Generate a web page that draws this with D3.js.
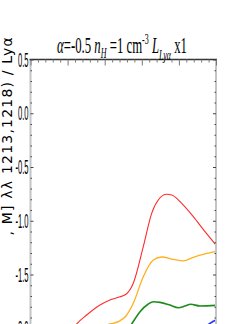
<!DOCTYPE html>
<html><head><meta charset="utf-8">
<script src="https://cdn.jsdelivr.net/npm/d3@7"></script>
<style>body{margin:0;background:#fff}svg{display:block}</style>
</head><body>
<script>
// ---- data ----
const xDomain = [0, 25];
const yDomain = [-2.5, 0.5];
const yTickValues = [0.5, 0.0, -0.5, -1.0, -1.5, -2.0];
const yTickLabels = ["0.5", "0.0", "-0.5", "-1.0", "-1.5", "-2.0"];
const yLabelText = ", M] λλ 1213,1218) / Lyα";

const redX = [5.0, 6.23, 7.57, 9.37, 10.71, 11.83, 12.87, 13.85, 15.2, 16.33, 17.22, 18.36, 19.03, 20.38, 21.94, 23.52, 25];
const redY = [-2.08, -1.96, -1.877, -1.784, -1.737, -1.712, -1.684, -1.582, -1.241, -0.931, -0.807, -0.754, -0.760, -0.838, -0.962, -1.102, -1.226];
const orangeX = [9.5, 10.71, 11.83, 12.87, 13.85, 15.2, 16.55, 17.68, 19.25, 20.59, 21.94, 23.52, 25];
const orangeY = [-1.985, -1.960, -1.939, -1.886, -1.768, -1.520, -1.365, -1.337, -1.359, -1.374, -1.340, -1.309, -1.285];
const greenX = [12.8, 13.64, 14.76, 15.88, 16.55, 17.45, 18.8, 19.92, 20.82, 21.59, 22.84, 25];
const greenY = [-2.05, -1.960, -1.846, -1.774, -1.753, -1.759, -1.784, -1.809, -1.793, -1.777, -1.793, -1.787];
const blueX = [23.0, 24.19, 25];
const blueY = [-2.02, -1.954, -1.923];

const series = [
  {x: redX, y: redY, color: "#ff2a2a", w: 1.1},
  {x: orangeX, y: orangeY, color: "#ffb020", w: 1.3},
  {x: greenX, y: greenY, color: "#1e8c1e", w: 1.6},
  {x: blueX, y: blueY, color: "#2030ff", w: 1.6}
];

// ---- layout ----
const W = 240, H = 324;
const mLeft = 30.5, mRight = 216, mTop = 59.5;
const x = d3.scaleLinear().domain(xDomain).range([mLeft, mRight]);
const y = d3.scaleLinear().domain(yDomain).range([mTop + 3 * 107.5, mTop]);

const svg = d3.select("body").append("svg").attr("width", W).attr("height", H);

// curves
const line = d3.line().x(d => x(d[0])).y(d => y(d[1])).curve(d3.curveMonotoneX);
series.forEach(s => {
  const pts = s.x.map((v, i) => [v, s.y[i]]);
  svg.append("path").attr("d", line(pts)).attr("fill", "none")
    .attr("stroke", s.color).attr("stroke-width", s.w);
});

// frame
svg.append("line").attr("x1", mLeft).attr("x2", mLeft).attr("y1", mTop).attr("y2", H + 10)
  .attr("stroke", "#c4c4c4").attr("stroke-width", 2);
svg.append("line").attr("x1", mRight).attr("x2", mRight).attr("y1", mTop).attr("y2", H + 10)
  .attr("stroke", "#c4c4c4").attr("stroke-width", 2);
svg.append("line").attr("x1", mLeft - 1).attr("x2", mRight + 1).attr("y1", mTop).attr("y2", mTop)
  .attr("stroke", "#333").attr("stroke-width", 1.5);

// top axis ticks (inward)
const topAxis = d3.axisBottom(x).tickValues(d3.range(0, 25.01, 1)).tickFormat("")
  .tickSize(3).tickSizeOuter(0);
const gTop = svg.append("g").attr("transform", `translate(0,${mTop})`).call(topAxis);
gTop.select(".domain").remove();
gTop.selectAll(".tick line").attr("stroke", "#777")
  .attr("y2", d => (Math.round(d) % 5 === 0) ? 6 : 3);

// left/right ticks
const yMinor = d3.range(-25, 6, 1).map(v => v / 10);
const gL = svg.append("g").attr("transform", `translate(${mLeft},0)`)
  .call(d3.axisRight(y).tickValues(yMinor).tickFormat("").tickSize(2).tickSizeOuter(0));
gL.select(".domain").remove();
gL.selectAll(".tick line").attr("stroke", "#444").attr("x2", d => (Math.round(d * 10) % 5 === 0) ? 3 : 1.5);
const gR = svg.append("g").attr("transform", `translate(${mRight},0)`)
  .call(d3.axisLeft(y).tickValues(yMinor).tickFormat("").tickSize(2).tickSizeOuter(0));
gR.select(".domain").remove();
gR.selectAll(".tick line").attr("stroke", "#444").attr("x2", d => (Math.round(d * 10) % 5 === 0) ? -3 : -1.5);

// y tick labels
yTickValues.forEach((v, i) => {
  const g = svg.append("g").attr("transform", `translate(${mLeft - 2},${y(v) + 7}) scale(0.38,1)`);
  g.append("text").attr("text-anchor", "end").attr("font-family", "Liberation Sans")
    .attr("font-size", 20).attr("fill", "#000").text(yTickLabels[i]);
});

// title
const tg = svg.append("g");
const tt = tg.append("text").attr("font-family", "Liberation Serif").attr("font-size", 24).attr("fill", "#000");
tt.append("tspan").attr("font-style", "italic").text("α");
tt.append("tspan").text("=-0.5 ");
tt.append("tspan").attr("font-style", "italic").text("n");
tt.append("tspan").attr("font-style", "italic").attr("font-size", 15).attr("dy", 5).text("H");
tt.append("tspan").attr("dy", -5).text(" =1 cm");
tt.append("tspan").attr("font-size", 15).attr("dy", -9).text("-3");
tt.append("tspan").attr("dy", 9).text(" ");
tt.append("tspan").attr("font-style", "italic").text("L");
tt.append("tspan").attr("font-style", "italic").attr("font-size", 15).attr("dy", 7).text("Lyα");
tt.append("tspan").attr("dy", -7).text(" x1");
const tw = tt.node().getComputedTextLength();
tg.attr("transform", `translate(57,53) scale(${130 / tw},1)`);

// y label
svg.append("text").attr("transform", "translate(12,36) rotate(-90)")
  .attr("text-anchor", "end").attr("font-family", "DejaVu Sans").attr("font-size", 14)
  .attr("letter-spacing", 1.2).attr("fill", "#000").text(yLabelText);
</script>
</body></html>
